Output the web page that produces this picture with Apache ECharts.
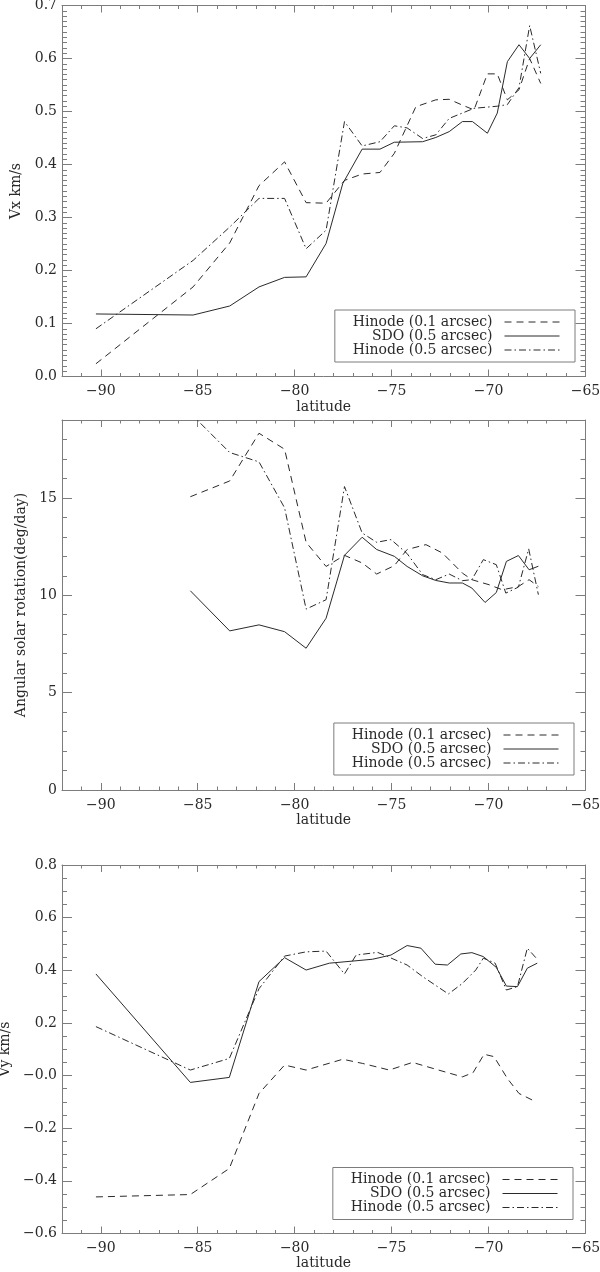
<!DOCTYPE html>
<html><head><meta charset="utf-8">
<script src="https://cdn.jsdelivr.net/npm/echarts@6/dist/echarts.min.js"></script>
<style>html,body{margin:0;padding:0;background:#fff}#c{width:600px;height:1272px}</style>
</head><body><div id="c"></div>
<script>
// ---------- data ----------
const seriesNames = ['Hinode (0.1 arcsec)', 'SDO (0.5 arcsec)', 'Hinode (0.5 arcsec)'];
const xTicks = [-90, -85, -80, -75, -70, -65];
const xTickLabels = ['\u221290', '\u221285', '\u221280', '\u221275', '\u221270', '\u221265'];

const p1YTicks = [0, 0.1, 0.2, 0.3, 0.4, 0.5, 0.6, 0.7];
const p1YLabels = ['0.0', '0.1', '0.2', '0.3', '0.4', '0.5', '0.6', '0.7'];
const p2YTicks = [0, 5, 10, 15];
const p2YLabels = ['0', '5', '10', '15'];
const p3YTicks = [-0.6, -0.4, -0.2, 0, 0.2, 0.4, 0.6, 0.8];
const p3YLabels = ['\u22120.6', '\u22120.4', '\u22120.2', '\u22120.0', '0.2', '0.4', '0.6', '0.8'];

// Panel 1: Vx (km/s)
const p1Hinode01 = [[-90.25,0.024],[-85.24,0.169],[-83.35,0.252],[-81.84,0.360],[-80.52,0.405],[-79.41,0.328],[-78.38,0.327],[-77.43,0.370],[-76.52,0.382],[-75.6,0.385],[-74.86,0.421],[-73.75,0.509],[-72.72,0.522],[-72.03,0.523],[-71.35,0.512],[-70.75,0.503],[-70.06,0.571],[-69.55,0.571],[-69.03,0.522],[-68.43,0.541],[-67.88,0.600],[-67.31,0.553]];
const p1SDO = [[-90.25,0.118],[-85.24,0.116],[-83.35,0.133],[-81.84,0.169],[-80.52,0.187],[-79.41,0.188],[-78.38,0.251],[-77.52,0.364],[-76.52,0.429],[-75.6,0.429],[-74.86,0.442],[-73.4,0.443],[-72.72,0.451],[-72.03,0.462],[-71.35,0.481],[-70.83,0.481],[-70.06,0.459],[-69.55,0.497],[-69.03,0.594],[-68.43,0.626],[-67.88,0.600],[-67.31,0.626]];
const p1Hinode05 = [[-90.25,0.090],[-85.24,0.219],[-83.35,0.282],[-81.84,0.336],[-80.52,0.336],[-79.41,0.241],[-78.38,0.276],[-77.43,0.481],[-76.52,0.435],[-75.6,0.443],[-74.86,0.473],[-74.2,0.469],[-73.4,0.449],[-72.72,0.456],[-72.03,0.487],[-70.75,0.506],[-69.55,0.510],[-69.03,0.513],[-68.43,0.545],[-67.88,0.662],[-67.31,0.572]];

// Panel 2: angular rotation (deg/day)
const p2Hinode01 = [[-85.38,15.06],[-83.35,15.87],[-81.84,18.32],[-80.52,17.5],[-79.41,12.72],[-78.38,11.48],[-77.43,12.05],[-76.52,11.66],[-75.77,11.09],[-74.86,11.52],[-74.2,12.35],[-73.23,12.6],[-72.38,12.17],[-71.35,11.14],[-70.86,10.80],[-69.97,10.54],[-69.29,10.28],[-68.46,10.45],[-67.91,10.80],[-67.43,10.45]];
const p2SDO = [[-85.38,10.23],[-83.35,8.17],[-81.84,8.48],[-80.52,8.13],[-79.41,7.28],[-78.38,8.82],[-77.43,12.05],[-76.52,12.98],[-75.77,12.35],[-74.86,12.0],[-74.2,11.48],[-73.4,11.0],[-72.72,10.76],[-72.03,10.63],[-71.35,10.63],[-70.86,10.37],[-70.18,9.63],[-69.6,10.14],[-69.08,11.74],[-68.46,12.04],[-67.91,11.31],[-67.43,11.49]];
const p2Hinode05 = [[-85.38,19.35],[-83.35,17.33],[-81.84,16.85],[-80.52,14.49],[-79.41,9.29],[-78.38,9.77],[-77.43,15.58],[-76.52,13.2],[-75.77,12.72],[-75.03,12.86],[-74.2,12.14],[-73.4,11.06],[-72.72,10.8],[-72.03,11.09],[-71.35,10.75],[-70.86,10.8],[-70.27,11.83],[-69.6,11.57],[-69.11,10.11],[-68.46,10.42],[-67.93,12.38],[-67.43,10.03]];

// Panel 3: Vy (km/s)
const p3Hinode01 = [[-90.25,-0.461],[-85.38,-0.452],[-83.37,-0.353],[-81.84,-0.068],[-80.52,0.040],[-79.41,0.021],[-77.52,0.062],[-76.49,0.046],[-75.12,0.021],[-73.92,0.050],[-72.72,0.024],[-71.35,-0.005],[-70.8,0.011],[-70.23,0.081],[-69.72,0.072],[-69.03,-0.011],[-68.43,-0.068],[-67.66,-0.096]];
const p3SDO = [[-90.25,0.386],[-85.38,-0.026],[-83.37,-0.007],[-81.84,0.357],[-80.52,0.448],[-79.41,0.401],[-78.21,0.427],[-77.0,0.435],[-75.98,0.442],[-75.03,0.458],[-74.2,0.494],[-73.49,0.484],[-72.75,0.423],[-72.12,0.420],[-71.43,0.462],[-70.86,0.467],[-70.27,0.452],[-69.6,0.411],[-69.08,0.340],[-68.51,0.338],[-68.0,0.408],[-67.49,0.427]];
const p3Hinode05 = [[-90.25,0.186],[-85.38,0.021],[-83.37,0.065],[-81.84,0.330],[-80.52,0.454],[-79.41,0.470],[-78.38,0.473],[-77.43,0.386],[-76.83,0.458],[-75.72,0.468],[-75.2,0.452],[-74.2,0.420],[-73.4,0.376],[-72.07,0.310],[-71.35,0.350],[-70.66,0.401],[-70.27,0.446],[-69.66,0.427],[-69.08,0.325],[-68.51,0.338],[-68.0,0.484],[-67.49,0.442]];

// ---------- layout / style ----------
const FONT = 'DejaVu Serif';
const FS = 14;
const AX = '#7c7c7c', TXT = '#2a2a2a', LINE = '#2a2a2a';
const dashTypes = [[7, 5], 'solid', [7, 3, 1.5, 3]];

const panels = [
  {top: 5.5, height: 371, ymin: 0, ymax: 0.7, yTicks: p1YTicks, yLabels: p1YLabels, minor: 0.01,
   yName: 'Vx km/s', yNameGap: 33, xNameGap: 24, legTop: 310, legRight: 25,
   data: [p1Hinode01, p1SDO, p1Hinode05]},
  {top: 420, height: 370, ymin: 0, ymax: 19, yTicks: p2YTicks, yLabels: p2YLabels, minor: 1,
   yName: 'Angular solar rotation(deg/day)', yNameGap: 28, xNameGap: 21, legTop: 723, legRight: 26,
   data: [p2Hinode01, p2SDO, p2Hinode05]},
  {top: 865, height: 368.5, ymin: -0.6, ymax: 0.8, yTicks: p3YTicks, yLabels: p3YLabels, minor: 0.05,
   yName: 'Vy km/s', yNameGap: 43, xNameGap: 22, legTop: 1167.5, legRight: 27,
   data: [p3Hinode01, p3SDO, p3Hinode05]}
];

const textBase = {fontFamily: FONT, fontSize: FS, color: TXT};
const grid = [], xAxis = [], yAxis = [], series = [], legend = [];

panels.forEach((p, i) => {
  grid.push({left: 62, right: 14.5, top: p.top, height: p.height, containLabel: false, outerBoundsMode: 'none'});
  const lineOn = {show: true, onZero: false, lineStyle: {color: AX, width: 1}};
  const lineOff = {show: false, onZero: false};
  const baseX = {type: 'value', gridIndex: i, min: -92, max: -65, splitLine: {show: false}};
  ['bottom', 'top'].forEach(pos => {
    xAxis.push(Object.assign({}, baseX, {
      position: pos, axisLine: lineOn,
      axisTick: {show: true, inside: true, length: 7, customValues: xTicks, lineStyle: {color: AX}},
      axisLabel: pos === 'bottom'
        ? Object.assign({customValues: xTicks, margin: 8, formatter: v => xTickLabels[xTicks.indexOf(v)]}, textBase)
        : {show: false},
      name: pos === 'bottom' ? 'latitude' : '', nameLocation: 'middle', nameGap: p.xNameGap,
      nameTextStyle: textBase
    }));
    xAxis.push(Object.assign({}, baseX, {
      position: pos, interval: 1, axisLine: lineOff,
      axisTick: {show: true, inside: true, length: 3.5, lineStyle: {color: AX}},
      axisLabel: {show: false}
    }));
  });
  const baseY = {type: 'value', gridIndex: i, min: p.ymin, max: p.ymax, splitLine: {show: false}};
  ['left', 'right'].forEach(pos => {
    yAxis.push(Object.assign({}, baseY, {
      position: pos, axisLine: lineOn,
      axisTick: {show: true, inside: true, length: 10, customValues: p.yTicks, lineStyle: {color: AX}},
      axisLabel: pos === 'left'
        ? Object.assign({customValues: p.yTicks, margin: 5, formatter: v => {
            let k = p.yTicks.findIndex(t => Math.abs(t - v) < 1e-9); return k >= 0 ? p.yLabels[k] : ''; }}, textBase)
        : {show: false},
      name: pos === 'left' ? p.yName : '', nameLocation: 'middle', nameGap: p.yNameGap,
      nameRotate: 90, nameTextStyle: textBase
    }));
    yAxis.push(Object.assign({}, baseY, {
      position: pos, interval: p.minor, axisLine: lineOff,
      axisTick: {show: true, inside: true, length: 5, lineStyle: {color: AX}},
      axisLabel: {show: false}
    }));
  });
  p.data.forEach((d, k) => {
    series.push({
      type: 'line', name: seriesNames[k], xAxisIndex: i * 4, yAxisIndex: i * 4,
      data: d, symbol: 'none', showSymbol: false, clip: true,
      lineStyle: {color: LINE, width: 1, type: dashTypes[k]}, itemStyle: {color: LINE},
      emphasis: {disabled: true}
    });
  });
  legend.push({
    top: p.legTop, right: p.legRight, orient: 'vertical', align: 'right',
    data: seriesNames, itemWidth: 55, itemHeight: 12, itemGap: 0,
    padding: [5, 15, 5, 18], borderColor: AX, borderWidth: 1,
    selectedMode: false,
    itemStyle: {color: 'rgba(0,0,0,0)', borderColor: 'rgba(0,0,0,0)', borderWidth: 0, opacity: 0},
    lineStyle: {width: 1, color: LINE},
    textStyle: Object.assign({padding: [0, 7, 0, 0]}, textBase)
  });
});

const chart = echarts.init(document.getElementById('c'), null, {renderer: 'canvas'});
chart.setOption({animation: false, backgroundColor: '#fff', grid, xAxis, yAxis, series, legend});
</script>
</body></html>
